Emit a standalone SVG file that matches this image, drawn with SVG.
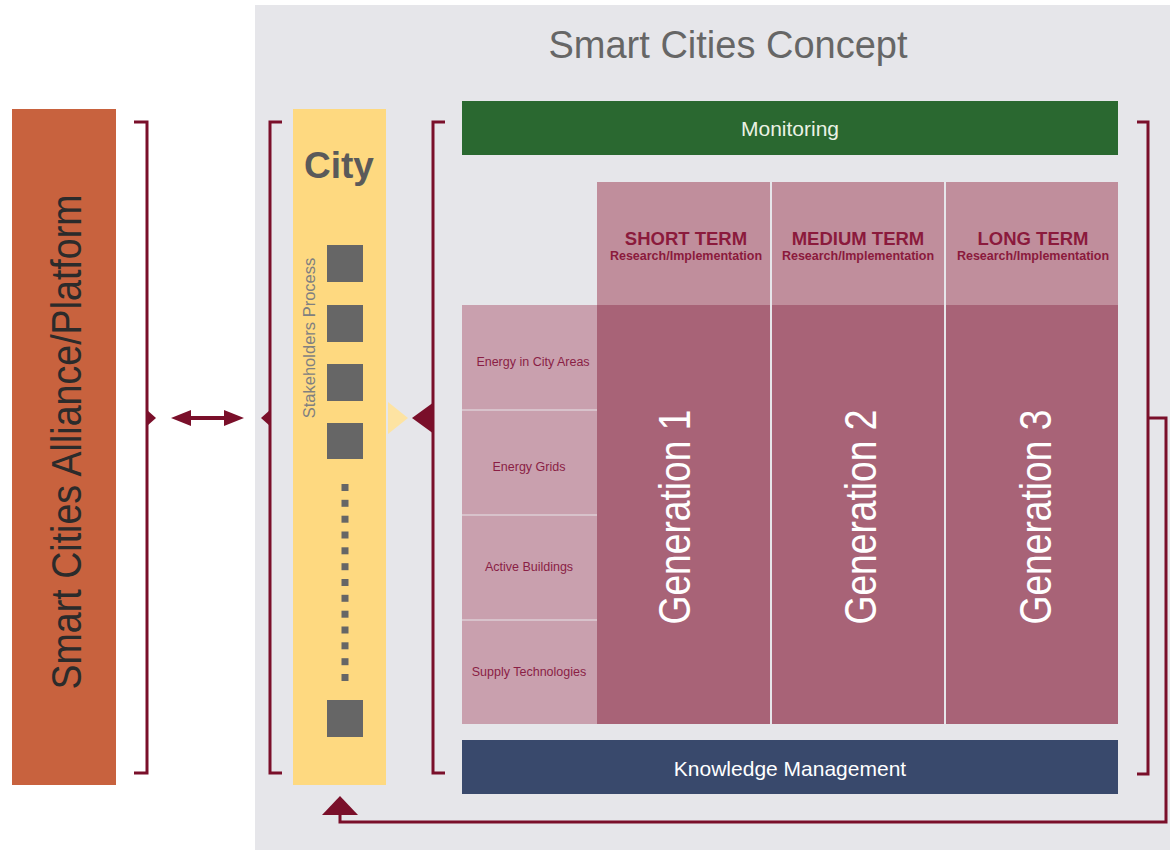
<svg xmlns="http://www.w3.org/2000/svg" width="1170" height="850" viewBox="0 0 1170 850">
<style>
.br{fill:none;stroke:#7a0f2a;stroke-width:3}
.mk{fill:#7a0f2a}
.sq{fill:#666666}
.dot{fill:#666666}
.hd{font-family:"Liberation Sans",Arial,sans-serif;font-weight:bold;fill:#8b1a3c;text-anchor:middle}
.cat{font-family:"Liberation Sans",Arial,sans-serif;font-size:12.5px;fill:#8a1e45;text-anchor:middle}
.gen{font-family:"Liberation Sans",Arial,sans-serif;font-size:44px;fill:#ffffff;text-anchor:middle}
.bar{font-family:"Liberation Sans",Arial,sans-serif;font-size:21px;text-anchor:middle}
</style>
<rect x="0" y="0" width="1170" height="850" fill="#ffffff"/>
<g id="concept-panel">
<rect x="255" y="5" width="915" height="845" fill="#e6e6ea"/>
<text x="728" y="58" font-family="Liberation Sans, Arial, sans-serif" font-size="38" fill="#666666" text-anchor="middle">Smart Cities Concept</text>
</g>
<g id="alliance">
<rect x="12" y="109" width="104" height="676" fill="#c8623e"/>
<text transform="translate(81,442) rotate(-90)" x="0" y="0" font-family="Liberation Sans, Arial, sans-serif" font-size="42" fill="#2b2b2b" text-anchor="middle" textLength="495" lengthAdjust="spacingAndGlyphs">Smart Cities Alliance/Platform</text>
</g>
<g id="city">
<rect x="293" y="109" width="93" height="676" fill="#fed980"/>
<text x="339" y="178" font-family="Liberation Sans, Arial, sans-serif" font-size="37" font-weight="bold" fill="#5a5a5a" text-anchor="middle">City</text>
<text transform="translate(315,338) rotate(-90)" x="0" y="0" font-family="Liberation Sans, Arial, sans-serif" font-size="16.5" fill="#808080" text-anchor="middle">Stakeholders Process</text>
<rect class="sq" x="327" y="245" width="36" height="37"/>
<rect class="sq" x="327" y="305" width="36" height="37"/>
<rect class="sq" x="327" y="364" width="36" height="37"/>
<rect class="sq" x="327" y="423" width="36" height="36"/>
<rect class="dot" x="341.5" y="484" width="7" height="7"/>
<rect class="dot" x="341.5" y="499.8" width="7" height="7"/>
<rect class="dot" x="341.5" y="515.7" width="7" height="7"/>
<rect class="dot" x="341.5" y="531.5" width="7" height="7"/>
<rect class="dot" x="341.5" y="547.3" width="7" height="7"/>
<rect class="dot" x="341.5" y="563.2" width="7" height="7"/>
<rect class="dot" x="341.5" y="579" width="7" height="7"/>
<rect class="dot" x="341.5" y="594.8" width="7" height="7"/>
<rect class="dot" x="341.5" y="610.7" width="7" height="7"/>
<rect class="dot" x="341.5" y="626.5" width="7" height="7"/>
<rect class="dot" x="341.5" y="642.3" width="7" height="7"/>
<rect class="dot" x="341.5" y="658.2" width="7" height="7"/>
<rect class="dot" x="341.5" y="674" width="7" height="7"/>
<rect class="sq" x="327" y="700" width="36" height="37"/>
<polygon points="388,402 408,418 388,434" fill="#fde3a2"/>
</g>
<g id="monitoring">
<rect x="462" y="101" width="656" height="54" fill="#2a6830"/>
<text class="bar" x="790" y="136" fill="#eaf2e4">Monitoring</text>
</g>
<g id="headers">
<rect x="597" y="182" width="173" height="123" fill="#c08e9c"/>
<rect x="772" y="182" width="172" height="123" fill="#c08e9c"/>
<rect x="946" y="182" width="172" height="123" fill="#c08e9c"/>
<text class="hd" x="686" y="245" font-size="18.5">SHORT TERM</text>
<text class="hd" x="686" y="260" font-size="12.5">Research/Implementation</text>
<text class="hd" x="858" y="245" font-size="18.5">MEDIUM TERM</text>
<text class="hd" x="858" y="260" font-size="12.5">Research/Implementation</text>
<text class="hd" x="1033" y="245" font-size="18.5">LONG TERM</text>
<text class="hd" x="1033" y="260" font-size="12.5">Research/Implementation</text>
</g>
<g id="categories">
<rect x="462" y="305" width="135" height="419" fill="#c9a0ae"/>
<rect x="462" y="409" width="135" height="2" fill="#d8c2cb"/>
<rect x="462" y="514" width="135" height="2" fill="#d8c2cb"/>
<rect x="462" y="619" width="135" height="2" fill="#d8c2cb"/>
<text class="cat" x="533" y="366">Energy in City Areas</text>
<text class="cat" x="529" y="471">Energy Grids</text>
<text class="cat" x="529" y="571">Active Buildings</text>
<text class="cat" x="529" y="676">Supply Technologies</text>
</g>
<g id="generation-1">
<rect x="597" y="305" width="173" height="419" fill="#a86377"/>
<text class="gen" transform="translate(690,517) rotate(-90)" x="0" y="0" textLength="215" lengthAdjust="spacingAndGlyphs">Generation 1</text>
</g>
<g id="generation-2">
<rect x="772" y="305" width="172" height="419" fill="#a86377"/>
<text class="gen" transform="translate(876,517) rotate(-90)" x="0" y="0" textLength="215" lengthAdjust="spacingAndGlyphs">Generation 2</text>
</g>
<g id="generation-3">
<rect x="946" y="305" width="172" height="419" fill="#a86377"/>
<text class="gen" transform="translate(1051,517) rotate(-90)" x="0" y="0" textLength="215" lengthAdjust="spacingAndGlyphs">Generation 3</text>
</g>
<g id="knowledge">
<rect x="462" y="740" width="656" height="54" fill="#39496c"/>
<text class="bar" x="790" y="776" fill="#ffffff">Knowledge Management</text>
</g>
<g id="connectors">
<path class="br" d="M134,122 H147 V773 H134"/>
<polygon class="mk" points="147,410 156,418 147,426"/>
<line x1="185" y1="418" x2="230" y2="418" stroke="#7a0f2a" stroke-width="4"/>
<polygon class="mk" points="171,418 191,410 191,426"/>
<polygon class="mk" points="244,418 224,410 224,426"/>
<path class="br" d="M282,122 H270 V773 H282"/>
<polygon class="mk" points="270,410 261,418 270,426"/>
<path class="br" d="M445,122 H433 V773 H445"/>
<polygon class="mk" points="434,402 412,418 434,434"/>
<path class="br" d="M1137,122 H1148 V774 H1137"/>
<path class="br" d="M1148,418 H1166 V822 H340 V812"/>
<polygon class="mk" points="340,796 358,815 322,815"/>
</g>
</svg>
